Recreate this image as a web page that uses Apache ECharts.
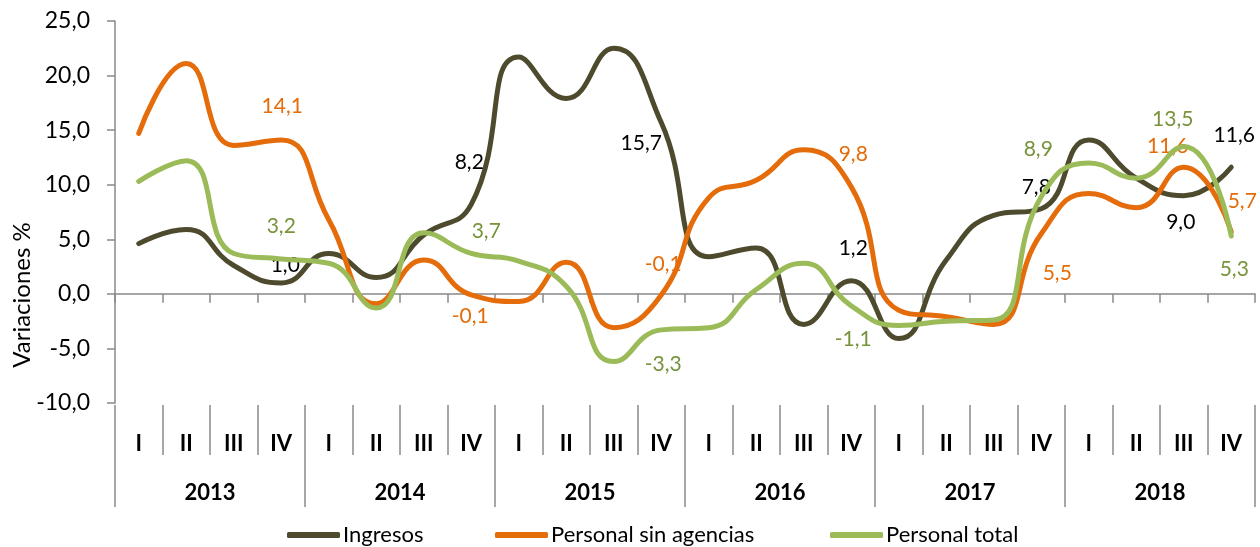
<!DOCTYPE html>
<html><head><meta charset="utf-8">
<script src="https://cdn.jsdelivr.net/npm/echarts@6/dist/echarts.min.js"></script>
<style>html,body{margin:0;padding:0;background:#fff}#c{width:1260px;height:547px}</style>
</head><body><div id="c"></div>
<script>
// ---- data ----
const quarters = ['I','II','III','IV','I','II','III','IV','I','II','III','IV','I','II','III','IV','I','II','III','IV','I','II','III','IV'];
const years = ['2013','2014','2015','2016','2017','2018'];
const seriesNames = ['Ingresos','Personal sin agencias','Personal total'];
const ingresos      = [4.6, 5.9, 2.6, 1.0, 3.7, 1.5, 5.4, 8.2, 21.7, 17.9, 22.5, 15.7, 3.4, 4.2, -2.8, 1.2, -4.1, 3.1, 7.2, 7.8, 14.1, 10.6, 9.0, 11.6];
const sinAgencias   = [14.7, 21.1, 13.6, 14.1, 6.8, -0.9, 3.1, -0.1, -0.7, 2.9, -3.1, -0.1, 8.8, 10.4, 13.2, 9.8, -1.5, -2.1, -2.8, 5.5, 9.2, 7.9, 11.6, 5.7];
const personalTotal = [10.3, 12.2, 3.7, 3.2, 2.8, -1.3, 5.6, 3.7, 3.0, 0.7, -6.2, -3.3, -3.1, 0.4, 2.8, -1.1, -2.9, -2.5, -2.4, 8.9, 12.0, 10.6, 13.5, 5.3];
const yMin = -10, yMax = 25, yStep = 5;

// ---- label placement (styling only) ----
const labelOffsets = [
  {3:[4,-2], 7:[-2,-27], 11:[-20,36], 15:[2,-17], 19:[-5,-6], 22:[-3,42], 23:[3,-17]},
  {3:[1,-18], 7:[-1,37], 11:[2,-15], 15:[2,-17], 19:[16,55], 22:[-16,-6], 23:[11,-15]},
  {3:[0,-17], 7:[15,-7], 11:[2,50], 15:[2,49], 19:[-3,-32], 22:[-11,-12], 23:[3,49]}
];
const legendLefts = [282, 490, 825];
const lineColors = ['#4D4A2D', '#E46C0A', '#9BBB59'];
const labelColors = ['#000000', '#E46C0A', '#77933C'];
const FONT = 'Lato, "Open Sans", sans-serif';
const AX = '#898989';
const fmt = v => Number(v).toFixed(1).replace('.', ',');

const allValues = [ingresos, sinAgencias, personalTotal];
const series = allValues.map((vals, s) => ({
  name: seriesNames[s],
  type: 'line',
  xAxisIndex: 0,
  smooth: 0.5,
  showSymbol: true,
  symbol: 'circle',
  symbolSize: 0,
  lineStyle: { width: 5, color: lineColors[s], cap: 'round', join: 'round' },
  itemStyle: { color: lineColors[s] },
  label: { show: false, position: 'top', distance: 5, fontFamily: FONT, fontSize: 21, color: labelColors[s],
           formatter: p => fmt(p.value) },
  data: vals.map((v, i) => labelOffsets[s][i]
      ? { value: v, label: { show: true, offset: labelOffsets[s][i] } }
      : v),
  z: 3 + s
}));

const legends = seriesNames.map((n, s) => ({
  data: [n], left: legendLefts[s], top: 519, itemWidth: 53, itemHeight: 6,
  icon: 'roundRect',
  textStyle: { fontFamily: FONT, fontSize: 22, color: '#000', padding: [0,0,0,-2] }
}));

const chart = echarts.init(document.getElementById('c'), null, { renderer: 'canvas' });
chart.setOption({
  animation: false,
  backgroundColor: '#ffffff',
  grid: { left: 115, right: 5, top: 21, bottom: 144, containLabel: false },
  xAxis: [
    { type: 'category', data: quarters, boundaryGap: true,
      axisLine: { onZero: true, lineStyle: { color: AX, width: 1.5 } },
      axisTick: { show: true, interval: 0, length: 9, lineStyle: { color: AX, width: 1.5 } },
      axisLabel: { show: false }, splitLine: { show: false } },
    { type: 'category', data: quarters, boundaryGap: true, position: 'bottom', offset: 2,
      axisLine: { show: false, onZero: false },
      axisTick: { show: true, interval: 0, length: 50, lineStyle: { color: AX, width: 1.5 } },
      axisLabel: { interval: 0, margin: 28, fontFamily: FONT, fontWeight: 'bold', fontSize: 22, color: '#000' },
      splitLine: { show: false } },
    { type: 'category', data: years, boundaryGap: true, position: 'bottom', offset: 2,
      axisLine: { show: false, onZero: false },
      axisTick: { show: true, interval: 0, length: 102, lineStyle: { color: AX, width: 1.5 } },
      axisLabel: { interval: 0, margin: 77, fontFamily: FONT, fontWeight: 'bold', fontSize: 22, color: '#000' },
      splitLine: { show: false } }
  ],
  yAxis: {
    type: 'value', min: yMin, max: yMax, interval: yStep,
    axisLine: { show: true, lineStyle: { color: AX, width: 1.5 } },
    axisTick: { show: true, length: 8, lineStyle: { color: AX, width: 1.5 } },
    axisLabel: { margin: 25, fontFamily: FONT, fontSize: 23, color: '#000', formatter: fmt },
    splitLine: { show: false }
  },
  legend: legends,
  graphic: [{
    type: 'text', x: 22, y: 295, rotation: Math.PI / 2,
    style: { text: 'Variaciones %', font: '24px ' + FONT, fill: '#000', textAlign: 'center', textVerticalAlign: 'middle' }
  }],
  series: series
});
</script>
</body></html>
